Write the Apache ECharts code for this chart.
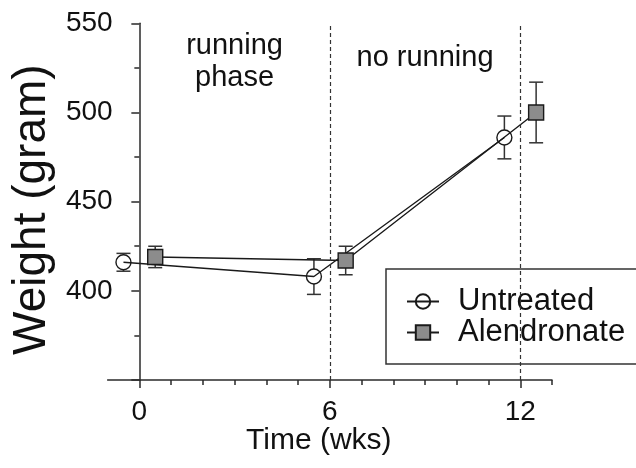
<!DOCTYPE html>
<html>
<head>
<meta charset="utf-8">
<script src="https://cdn.jsdelivr.net/npm/echarts@6/dist/echarts.min.js"></script>
<style>
  html, body { margin: 0; padding: 0; background: #fff; }
  #chart { width: 636px; height: 468px; }
</style>
</head>
<body>
<div id="chart"></div>
<script>
// Body weight over time (mean ± error) for the two groups
const weeksUntreated = [-0.5, 5.5, 11.5];
const weightUntreated = [416, 408, 486];
const errUntreated = [5, 10, 12];

const weeksAlendronate = [0.5, 6.5, 12.5];
const weightAlendronate = [419, 417, 500];
const errAlendronate = [6, 8, 17];

// Axis ticks
const xTicks = [0, 6, 12];
const xMinorTicks = [1, 2, 3, 4, 5, 7, 8, 9, 10, 11, 13];
const yTicks = [400, 450, 500, 550];

// Phase boundaries and labels
const phaseBreaks = [6, 12];
const phaseLabels = ['running\nphase', 'no running'];
const phaseRanges = [[0, 6], [6, 12]];

const FONT = 'Liberation Sans, Arial, Helvetica, sans-serif';
const INK = '#111';
const AXIS = '#2a2a2a';

function zip3(xs, ys, es) {
  return xs.map((x, i) => [x, ys[i], es[i]]);
}

// Vertical error bar with caps; the stem stops at the marker edge
function errorBar(markerRadius) {
  return function (params, api) {
    const x = api.value(0), y = api.value(1), e = api.value(2);
    const top = api.coord([x, y + e]);
    const bot = api.coord([x, y - e]);
    const mid = api.coord([x, y]);
    const cap = 7;
    const style = { stroke: '#333', lineWidth: 1.5, fill: null };
    const children = [
      { type: 'line', shape: { x1: top[0] - cap, y1: top[1], x2: top[0] + cap, y2: top[1] }, style },
      { type: 'line', shape: { x1: bot[0] - cap, y1: bot[1], x2: bot[0] + cap, y2: bot[1] }, style }
    ];
    if (mid[1] - markerRadius > top[1]) {
      children.push({ type: 'line', shape: { x1: mid[0], y1: top[1], x2: mid[0], y2: mid[1] - markerRadius }, style });
    }
    if (mid[1] + markerRadius < bot[1]) {
      children.push({ type: 'line', shape: { x1: mid[0], y1: mid[1] + markerRadius, x2: mid[0], y2: bot[1] }, style });
    }
    return { type: 'group', children };
  };
}

const chart = echarts.init(document.getElementById('chart'), null, { renderer: 'canvas' });

const option = {
  backgroundColor: '#fff',
  animation: false,
  textStyle: { fontFamily: FONT, color: INK },
  grid: { left: 107.6, right: 84, top: 23.3, bottom: 88, containLabel: false, outerBoundsMode: 'none' },
  legend: {
    data: ['Untreated', 'Alendronate'],
    orient: 'vertical',
    left: 386,
    top: 269,
    padding: [17, 12, 16, 20],
    itemGap: 0,
    itemWidth: 32,
    itemHeight: 18,
    borderColor: '#333',
    borderWidth: 1.5,
    selectedMode: false,
    textStyle: { fontFamily: FONT, fontSize: 31, color: INK, lineHeight: 29, padding: [0, 0, 0, 14] }
  },
  xAxis: [
    {
      type: 'value',
      min: -1,
      max: 13,
      position: 'bottom',
      splitLine: { show: false },
      axisLine: { onZero: false, lineStyle: { color: AXIS, width: 1.5 } },
      axisTick: { customValues: xTicks, length: 8, lineStyle: { color: AXIS, width: 1.5 } },
      axisLabel: { customValues: xTicks, fontSize: 28, color: INK, margin: 18, fontFamily: FONT },
      name: 'Time (wks)',
      nameLocation: 'middle',
      nameMoveOverlap: false,
      nameGap: 46,
      nameTextStyle: { fontSize: 30, color: INK, fontFamily: FONT, padding: [0, 22, 0, 0] }
    },
    {
      type: 'value',
      min: -1,
      max: 13,
      position: 'bottom',
      splitLine: { show: false },
      axisLine: { show: false, onZero: false },
      axisTick: { customValues: xMinorTicks, length: 5, lineStyle: { color: AXIS, width: 1.5 } },
      axisLabel: { show: false }
    }
  ],
  yAxis: {
    type: 'value',
    min: 350,
    max: 550,
    interval: 50,
    splitLine: { show: false },
    axisLine: { show: true, onZero: true, onZeroAxisIndex: 0, lineStyle: { color: AXIS, width: 1.5 } },
    axisTick: { show: true, length: 8, lineStyle: { color: AXIS, width: 1.5 } },
    minorTick: { show: true, splitNumber: 2, length: 5, lineStyle: { color: AXIS, width: 1.5 } },
    axisLabel: { customValues: yTicks, fontSize: 28, color: INK, margin: -5, fontFamily: FONT },
    name: 'Weight (gram)',
    nameLocation: 'middle',
    nameMoveOverlap: false,
    nameRotate: 90,
    nameGap: 52,
    nameTextStyle: { fontSize: 46, color: INK, fontFamily: FONT, padding: [0, 16, 0, 0] }
  },
  series: [
    {
      name: 'Untreated error',
      type: 'custom',
      z: 1,
      silent: true,
      renderItem: errorBar(7.5),
      data: zip3(weeksUntreated, weightUntreated, errUntreated)
    },
    {
      name: 'Alendronate error',
      type: 'custom',
      z: 1,
      silent: true,
      renderItem: errorBar(7.5),
      data: zip3(weeksAlendronate, weightAlendronate, errAlendronate)
    },
    {
      name: 'Untreated',
      type: 'line',
      z: 2,
      symbol: 'circle',
      symbolSize: 15,
      lineStyle: { color: '#1a1a1a', width: 1.4 },
      itemStyle: { color: 'rgba(255,255,255,0)', borderColor: '#1a1a1a', borderWidth: 1.4 },
      data: weeksUntreated.map((x, i) => [x, weightUntreated[i]]),
      markLine: {
        silent: true,
        symbol: 'none',
        label: { show: false },
        lineStyle: { type: [4, 3], color: '#333', width: 1.2 },
        data: phaseBreaks.map(v => ({ xAxis: v }))
      },
      markArea: {
        silent: true,
        itemStyle: { color: 'rgba(0,0,0,0)' },
        data: phaseRanges.map((r, i) => [
          {
            xAxis: r[0],
            label: {
              show: true,
              position: 'insideTop',
              distance: i === 0 ? 7 : 19,
              formatter: phaseLabels[i],
              fontSize: 29,
              lineHeight: 32,
              color: INK,
              fontFamily: FONT
            }
          },
          { xAxis: r[1] }
        ])
      }
    },
    {
      name: 'Alendronate',
      type: 'line',
      z: 3,
      symbol: 'rect',
      symbolSize: 15,
      lineStyle: { color: '#1a1a1a', width: 1.4 },
      itemStyle: { color: '#8c8c8c', borderColor: '#1a1a1a', borderWidth: 1.4 },
      data: weeksAlendronate.map((x, i) => [x, weightAlendronate[i]])
    }
  ]
};

chart.setOption(option);
</script>
</body>
</html>
